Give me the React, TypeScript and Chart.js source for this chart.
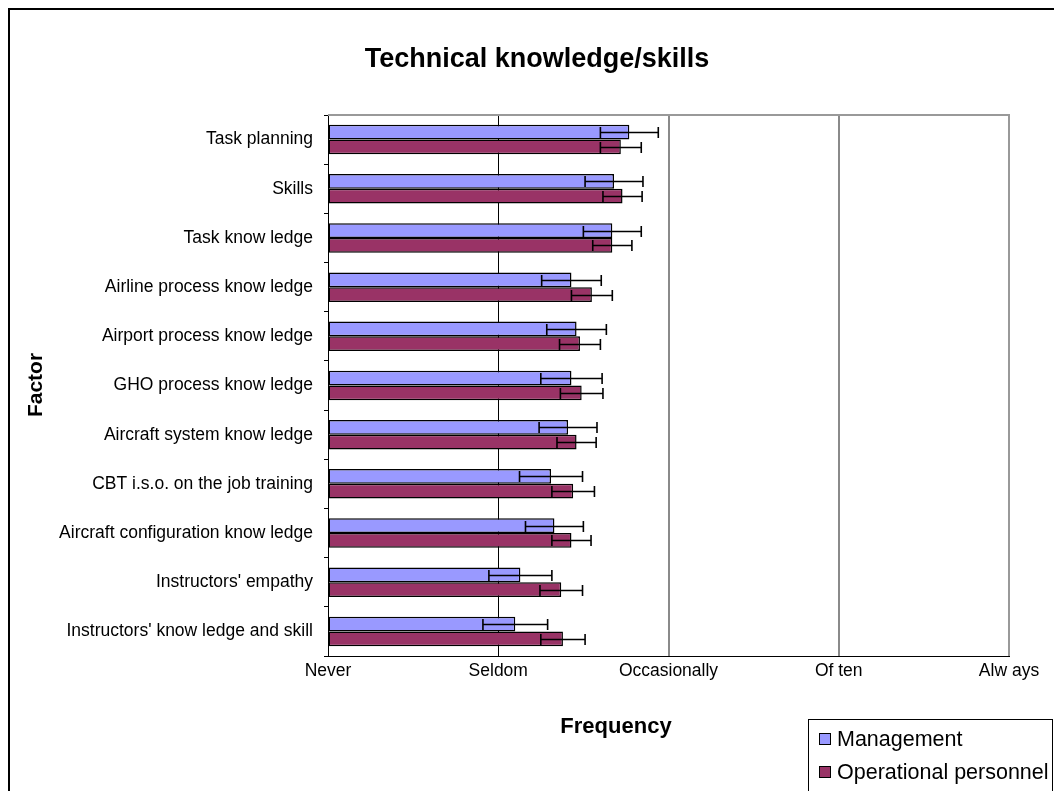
import React, { useEffect, useRef } from "react";
import { Chart, registerables } from "chart.js";

Chart.register(...registerables);

const TITLE = "Technical knowledge/skills";
const X_TITLE = "Frequency";
const Y_TITLE = "Factor";
const CATEGORIES = [
  "Task planning",
  "Skills",
  "Task know ledge",
  "Airline process know ledge",
  "Airport process know ledge",
  "GHO process know ledge",
  "Aircraft system know ledge",
  "CBT i.s.o. on the job training",
  "Aircraft configuration know ledge",
  "Instructors' empathy",
  "Instructors' know ledge and skill",
];
const FREQUENCY_LABELS = ["Never", "Seldom", "Occasionally", "Of ten", "Alw ays"];
const SERIES_NAMES = ["Management", "Operational personnel"];
const MANAGEMENT = [2.77, 2.68, 2.67, 2.43, 2.46, 2.43, 2.41, 2.31, 2.33, 2.13, 2.1];
const MANAGEMENT_ERR = [0.17, 0.17, 0.17, 0.175, 0.175, 0.18, 0.17, 0.185, 0.17, 0.185, 0.19];
const OPERATIONAL = [2.72, 2.73, 2.67, 2.55, 2.48, 2.49, 2.46, 2.44, 2.43, 2.37, 2.38];
const OPERATIONAL_ERR = [0.12, 0.115, 0.115, 0.12, 0.12, 0.125, 0.115, 0.125, 0.115, 0.125, 0.13];
const COLORS = ["#9999FF", "#993366"];

const FONT = '"Liberation Sans", Arial, sans-serif';
const W = 1046;
const H = 783;

const errorBarsPlugin = {
  id: "errorBars",
  afterDatasetsDraw(chart: any) {
    const ctx = chart.ctx;
    const xScale = chart.scales.x;
    const errs = [MANAGEMENT_ERR, OPERATIONAL_ERR];
    ctx.save();
    ctx.strokeStyle = "#000";
    ctx.lineWidth = 1.6;
    chart.data.datasets.forEach((ds: any, i: number) => {
      const meta = chart.getDatasetMeta(i);
      meta.data.forEach((el: any, j: number) => {
        const v = ds.data[j];
        const e = errs[i][j];
        const x1 = xScale.getPixelForValue(v - e);
        const x2 = xScale.getPixelForValue(v + e);
        const y = Math.round(el.y) + 0.5;
        ctx.beginPath();
        ctx.moveTo(x1, y);
        ctx.lineTo(x2, y);
        ctx.moveTo(x1, y - 5.5);
        ctx.lineTo(x1, y + 5.5);
        ctx.moveTo(x2, y - 5.5);
        ctx.lineTo(x2, y + 5.5);
        ctx.stroke();
      });
    });
    ctx.restore();
  },
};

const framePlugin = {
  id: "frame",
  beforeDatasetsDraw(chart: any) {
    const { ctx, chartArea } = chart;
    ctx.save();
    ctx.strokeStyle = "#999";
    ctx.lineWidth = 2;
    ctx.beginPath();
    ctx.moveTo(chartArea.left, chartArea.top);
    ctx.lineTo(chartArea.right, chartArea.top);
    ctx.lineTo(chartArea.right, chartArea.bottom);
    ctx.stroke();
    ctx.restore();
  },
  afterDraw(chart: any) {
    const ctx = chart.ctx;
    ctx.save();
    // outer frame
    ctx.fillStyle = "#000";
    ctx.fillRect(0, 0, W, 2);
    ctx.fillRect(0, 0, 2, H);
    // title
    ctx.fillStyle = "#000";
    ctx.font = `bold 27px ${FONT}`;
    ctx.textAlign = "center";
    ctx.textBaseline = "alphabetic";
    ctx.fillText(TITLE, 529, 59);
    // x title
    ctx.font = `bold 22px ${FONT}`;
    ctx.fillText(X_TITLE, 608, 725);
    // y title
    ctx.save();
    ctx.translate(33.5, 377);
    ctx.rotate(-Math.PI / 2);
    ctx.font = `bold 21px ${FONT}`;
    ctx.fillText(Y_TITLE, 0, 0);
    ctx.restore();
    // legend
    ctx.strokeStyle = "#000";
    ctx.lineWidth = 1;
    ctx.strokeRect(800.5, 711.5, 244, 100);
    ctx.font = `21.5px ${FONT}`;
    ctx.textAlign = "left";
    const baselines = [738, 771];
    SERIES_NAMES.forEach((name, i) => {
      const b = baselines[i];
      ctx.fillStyle = COLORS[i];
      ctx.fillRect(811, b - 13, 12, 12);
      ctx.strokeStyle = "#000";
      ctx.strokeRect(811.5, b - 12.5, 11, 11);
      ctx.fillStyle = "#000";
      ctx.fillText(name, 829, b);
    });
    ctx.restore();
  },
};

export default function App() {
  const ref = useRef<HTMLCanvasElement | null>(null);
  useEffect(() => {
    if (!ref.current) return;
    const chart = new Chart(ref.current, {
      type: "bar",
      data: {
        labels: CATEGORIES,
        datasets: [
          {
            label: SERIES_NAMES[0],
            data: MANAGEMENT,
            backgroundColor: COLORS[0],
            borderColor: "#000",
            borderWidth: 1.5,
            borderSkipped: false,
            base: 1,
            categoryPercentage: 0.6,
            barPercentage: 1,
          },
          {
            label: SERIES_NAMES[1],
            data: OPERATIONAL,
            backgroundColor: COLORS[1],
            borderColor: "#000",
            borderWidth: 1.5,
            borderSkipped: false,
            base: 1,
            categoryPercentage: 0.6,
            barPercentage: 1,
          },
        ],
      },
      options: {
        indexAxis: "y",
        responsive: false,
        animation: false,
        layout: { padding: { left: 0, top: 107, right: 45, bottom: 95 } },
        plugins: {
          legend: { display: false },
          title: { display: false },
          tooltip: { enabled: false },
        },
        scales: {
          x: {
            type: "linear",
            min: 1,
            max: 5,
            ticks: {
              stepSize: 1,
              autoSkip: false,
              maxRotation: 0,
              color: "#000",
              padding: 5,
              font: { family: FONT, size: 17.5 },
              callback: (v: any) => FREQUENCY_LABELS[Math.round(v) - 1],
            },
            grid: {
              drawTicks: false,
              color: (c: any) => (c.index <= 1 ? "#000" : "#8a8a8a"),
              lineWidth: (c: any) => (c.index <= 1 ? 1 : 2),
            },
            border: { color: "#000", width: 1 },
            afterFit: (s: any) => {
              s.height = 40;
            },
          },
          y: {
            ticks: {
              autoSkip: false,
              color: "#000",
              padding: 11,
              font: { family: FONT, size: 17.5 },
            },
            grid: {
              drawOnChartArea: false,
              color: "#000",
              tickLength: 4,
              offset: true,
            },
            border: { color: "#000", width: 1 },
            afterFit: (s: any) => {
              s.width = 320;
            },
          },
        },
      },
      plugins: [errorBarsPlugin, framePlugin],
    } as any);
    return () => chart.destroy();
  }, []);
  return (
    <div style={{ position: "absolute", left: 8, top: 8, width: W, height: H, background: "#fff" }}>
      <canvas ref={ref} width={W} height={H} style={{ width: W, height: H, display: "block" }} />
    </div>
  );
}
